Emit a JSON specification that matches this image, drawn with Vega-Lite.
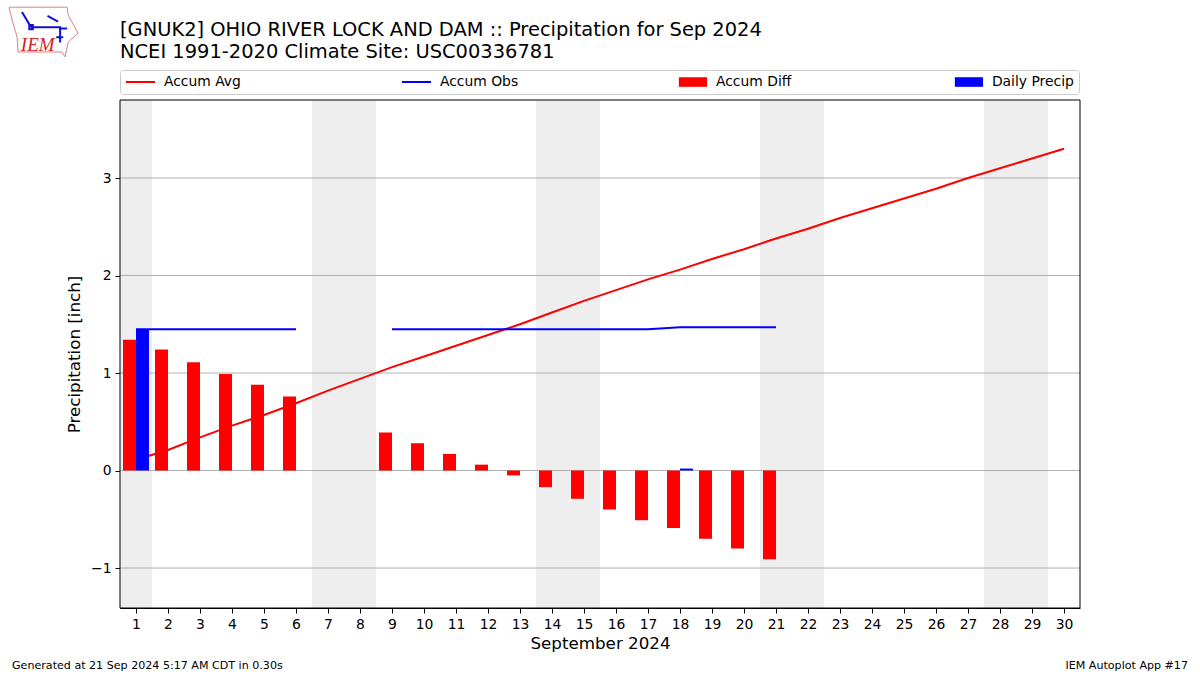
{
"$schema":"https://vega.github.io/schema/vega-lite/v6.json",
"width":960,"height":508,
"autosize":"none",
"padding":{"left":120,"top":100,"right":120,"bottom":67},
"background":"white",
"title":{"text":["[GNUK2] OHIO RIVER LOCK AND DAM :: Precipitation for Sep 2024","NCEI 1991-2020 Climate Site: USC00336781"],"anchor":"start","frame":"group","offset":-57,"font":"DejaVu Sans","fontSize":19.45,"fontWeight":"normal","color":"black","lineHeight":22},
"config":{"font":"DejaVu Sans","view":{"stroke":null},"axisX":{"labelFlush":false,"labelOverlap":false,"titlePadding":5,"format":"d"},"axisY":{"tickCount":6,"titlePadding":7,"format":"d","labelExpr":"replace(datum.label,'-','−')"},"axis":{"labelFont":"DejaVu Sans","titleFont":"DejaVu Sans","labelColor":"black","titleColor":"black","tickColor":"black","domainColor":"black","labelFontSize":13.9,"titleFontSize":16.7,"titleFontWeight":"normal","tickSize":5,"labelPadding":4,"grid":false}},
"datasets":{
"daily":[
{"day":1,"avg":0.11,"obs":1.45,"diff":1.34,"precip":1.45},
{"day":2,"avg":0.21,"obs":1.45,"diff":1.24,"precip":null},
{"day":3,"avg":0.34,"obs":1.45,"diff":1.11,"precip":null},
{"day":4,"avg":0.46,"obs":1.45,"diff":0.99,"precip":null},
{"day":5,"avg":0.57,"obs":1.45,"diff":0.88,"precip":null},
{"day":6,"avg":0.69,"obs":1.45,"diff":0.76,"precip":null},
{"day":7,"avg":0.82,"obs":null,"diff":null,"precip":null},
{"day":8,"avg":0.94,"obs":null,"diff":null,"precip":null},
{"day":9,"avg":1.06,"obs":1.45,"diff":0.39,"precip":null},
{"day":10,"avg":1.17,"obs":1.45,"diff":0.28,"precip":null},
{"day":11,"avg":1.28,"obs":1.45,"diff":0.17,"precip":null},
{"day":12,"avg":1.39,"obs":1.45,"diff":0.06,"precip":null},
{"day":13,"avg":1.5,"obs":1.45,"diff":-0.05,"precip":null},
{"day":14,"avg":1.62,"obs":1.45,"diff":-0.17,"precip":null},
{"day":15,"avg":1.74,"obs":1.45,"diff":-0.29,"precip":null},
{"day":16,"avg":1.85,"obs":1.45,"diff":-0.4,"precip":null},
{"day":17,"avg":1.96,"obs":1.45,"diff":-0.51,"precip":null},
{"day":18,"avg":2.06,"obs":1.47,"diff":-0.59,"precip":0.02},
{"day":19,"avg":2.17,"obs":1.47,"diff":-0.7,"precip":null},
{"day":20,"avg":2.27,"obs":1.47,"diff":-0.8,"precip":null},
{"day":21,"avg":2.38,"obs":1.47,"diff":-0.91,"precip":null},
{"day":22,"avg":2.48,"obs":null,"diff":null,"precip":null},
{"day":23,"avg":2.59,"obs":null,"diff":null,"precip":null},
{"day":24,"avg":2.69,"obs":null,"diff":null,"precip":null},
{"day":25,"avg":2.79,"obs":null,"diff":null,"precip":null},
{"day":26,"avg":2.89,"obs":null,"diff":null,"precip":null},
{"day":27,"avg":3.0,"obs":null,"diff":null,"precip":null},
{"day":28,"avg":3.1,"obs":null,"diff":null,"precip":null},
{"day":29,"avg":3.2,"obs":null,"diff":null,"precip":null},
{"day":30,"avg":3.3,"obs":null,"diff":null,"precip":null}
],
"weekends":[{"start":0.5,"end":1.5},{"start":6.5,"end":8.5},{"start":13.5,"end":15.5},{"start":20.5,"end":22.5},{"start":27.5,"end":29.5}],
"gridlines":[{"v":-1},{"v":0},{"v":1},{"v":2},{"v":3}],
"notesLeft":[{"text":"Generated at 21 Sep 2024 5:17 AM CDT in 0.30s","at":-2.875}],
"notesRight":[{"text":"IEM Autoplot App #17","at":33.875}]
},
"layer":[
{"data":{"name":"weekends"},"mark":{"type":"rect","color":"#eeeeee"},
 "encoding":{"x":{"field":"start","type":"quantitative","title":"September 2024","scale":{"domain":[0.5,30.5],"nice":false,"zero":false,"padding":0}},
  "x2":{"field":"end"}}},
{"data":{"name":"gridlines"},"mark":{"type":"rule","color":"#b0b0b0","strokeWidth":1},
 "encoding":{"y":{"field":"v","type":"quantitative","title":"Precipitation [inch]","scale":{"domain":[-1.41,3.8],"nice":false,"zero":false,"padding":0}}}},
{"data":{"name":"daily"},"mark":{"type":"line","strokeWidth":2,"interpolate":"linear"},
 "encoding":{"x":{"field":"day","type":"quantitative"},"y":{"field":"avg","type":"quantitative"},
  "color":{"datum":"Accum Avg","type":"nominal","scale":{"domain":["Accum Avg","Accum Obs","Accum Diff","Daily Precip"],"range":["#ff0000","#0000ff","#ff0000","#0000ff"]},
   "legend":{"title":null,"orient":"none","legendX":0,"legendY":-30,"columns":4,"gridAlign":"all","columnPadding":151,"padding":5,"fillColor":"white","strokeColor":"#cccccc","cornerRadius":3,"labelFont":"DejaVu Sans","labelFontSize":13.9,"labelColor":"black","labelOffset":25,"symbolSize":144,"symbolStrokeWidth":2,"labelLimit":200,
    "encode":{"symbols":{"update":{"shape":{"signal":"indexof(['Accum Avg','Accum Obs'],datum.value)>=0 ? 'M-1,0H3.85' : 'M-0.85,-0.8H3.85V0.8H-0.85Z'"},"fill":{"signal":"datum.value=='Accum Diff' ? '#ff0000' : datum.value=='Daily Precip' ? '#0000ff' : 'transparent'"},"stroke":{"signal":"datum.value=='Accum Avg'||datum.value=='Accum Diff' ? '#ff0000' : '#0000ff'"},"strokeWidth":{"signal":"indexof(['Accum Avg','Accum Obs'],datum.value)>=0 ? 2 : 0"}}}}}}}},
{"data":{"name":"daily"},"transform":[{"filter":"isValid(datum.diff)"}],"mark":{"type":"bar","width":13,"xOffset":-6.5},
 "encoding":{"x":{"field":"day","type":"quantitative"},"y":{"field":"diff","type":"quantitative"},"color":{"datum":"Accum Diff","type":"nominal"}}},
{"data":{"name":"daily"},"transform":[{"filter":"isValid(datum.precip)"}],"mark":{"type":"bar","width":13,"xOffset":6.5},
 "encoding":{"x":{"field":"day","type":"quantitative"},"y":{"field":"precip","type":"quantitative"},"color":{"datum":"Daily Precip","type":"nominal"}}},
{"data":{"name":"daily"},"mark":{"type":"line","strokeWidth":2,"interpolate":"linear"},
 "encoding":{"x":{"field":"day","type":"quantitative"},"y":{"field":"obs","type":"quantitative"},"color":{"datum":"Accum Obs","type":"nominal"}}},
{"data":{"values":[{}]},"mark":{"type":"rect","fill":null,"stroke":"black","strokeWidth":1},
 "encoding":{"x":{"datum":0.5},"x2":{"datum":30.5},"y":{"datum":-1.41},"y2":{"datum":3.8}}},
{"data":{"name":"notesLeft"},"mark":{"type":"text","fontSize":11.1,"font":"DejaVu Sans","color":"black","baseline":"middle","align":"left"},
 "encoding":{"x":{"field":"at","type":"quantitative"},"y":{"datum":-2.005},"text":{"field":"text"}}},
{"data":{"name":"notesRight"},"mark":{"type":"text","fontSize":11.1,"font":"DejaVu Sans","color":"black","baseline":"middle","align":"right"},
 "encoding":{"x":{"field":"at","type":"quantitative"},"y":{"datum":-2.005},"text":{"field":"text"}}},
{"data":{"values":[{}]},"mark":{"type":"point","shape":"M-1,-0.71L0.66,-0.71L0.69,-0.49L0.97,0.03L0.69,0.29L0.6,0.71L0.51,0.57L-0.74,0.57L-0.77,0.14L-0.91,-0.34Z","size":4900,"filled":false,"stroke":"#e08080","strokeWidth":1,"opacity":1},
 "encoding":{"x":{"datum":-1.875},"y":{"datum":4.497}}},
{"data":{"values":[{}]},"mark":{"type":"point","shape":"M-0.37,-0.14H0.46V0.3M-0.37,-0.14L-0.63,-0.57M0.1,-0.46L0.4,-0.3M0.46,-0.1H0.66M0.35,0.15H0.55M-0.42,-0.2H-0.32V-0.08H-0.42Z","size":4900,"filled":false,"stroke":"#1010d0","strokeWidth":2,"opacity":1},
 "encoding":{"x":{"datum":-1.875},"y":{"datum":4.497}}},
{"data":{"values":[{"logo":"IEM"}]},"mark":{"type":"text","font":"Liberation Serif","fontStyle":"italic","fontSize":19,"color":"#d82020","align":"left","baseline":"middle"},
 "encoding":{"x":{"datum":-2.6},"y":{"datum":4.36},"text":{"field":"logo"}}}
]
}
